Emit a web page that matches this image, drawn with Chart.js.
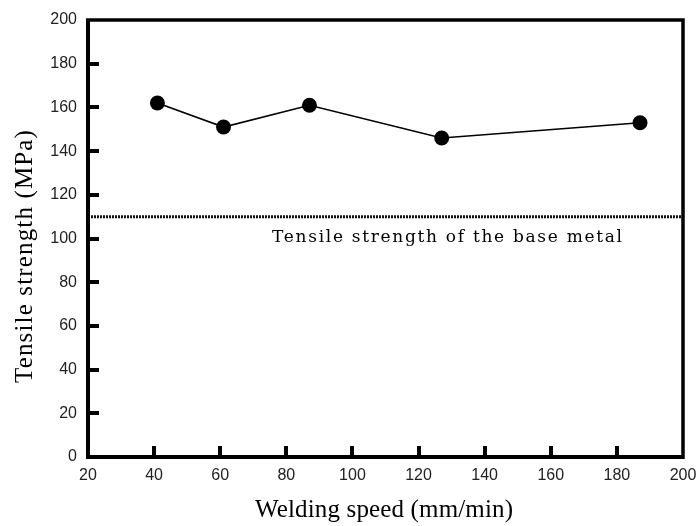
<!DOCTYPE html>
<html><head><meta charset="utf-8">
<script src="https://cdn.jsdelivr.net/npm/chart.js@4"></script>
<style>html,body{margin:0;padding:0;background:#fff;}#w{width:698px;height:526px;}</style>
</head><body><div id="w"><canvas id="c" width="698" height="526"></canvas></div>
<script>
const weldingSpeed = [41, 61, 87, 127, 187];
const tensileStrength = [162, 151, 161, 146, 153];
const baseMetalX = [20, 200];
const baseMetalY = [110, 110];
const baseMetalLabel = "Tensile strength of the base metal";
const xTicks = [20, 40, 60, 80, 100, 120, 140, 160, 180, 200];
const yTicks = [0, 20, 40, 60, 80, 100, 120, 140, 160, 180, 200];
const xTitle = "Welding speed (mm/min)";
const yTitle = "Tensile strength (MPa)";

function spacedText(ctx, text, x, y, target) {
  ctx.letterSpacing = '0px';
  const w = ctx.measureText(text).width;
  ctx.letterSpacing = ((target - w) / (text.length - 1)).toFixed(2) + 'px';
  ctx.fillText(text, x, y);
  ctx.letterSpacing = '0px';
}

const framePlugin = {
  id: 'frame',
  afterDatasetsDraw(chart) {
    const ctx = chart.ctx, a = chart.chartArea;
    const xs = chart.scales.x, ys = chart.scales.y;
    ctx.save();
    ctx.strokeStyle = '#000';
    ctx.lineWidth = 4;
    yTicks.forEach(v => {
      if (v === 0 || v === 200) return;
      const p = Math.round(ys.getPixelForValue(v));
      ctx.beginPath(); ctx.moveTo(a.left, p); ctx.lineTo(a.left + 11, p); ctx.stroke();
    });
    xTicks.forEach(v => {
      if (v === 20 || v === 200) return;
      const p = Math.round(xs.getPixelForValue(v));
      ctx.beginPath(); ctx.moveTo(p, a.bottom); ctx.lineTo(p, a.bottom - 11); ctx.stroke();
    });
    ctx.lineWidth = 4;
    ctx.beginPath(); ctx.moveTo(a.left, a.top); ctx.lineTo(a.left, a.bottom); ctx.lineTo(a.right, a.bottom); ctx.stroke();
    ctx.lineWidth = 3.5;
    ctx.beginPath(); ctx.moveTo(a.left - 2, a.top); ctx.lineTo(a.right, a.top); ctx.lineTo(a.right, a.bottom + 2); ctx.stroke();
    ctx.fillStyle = '#000';
    // base metal label
    ctx.font = '17px "DejaVu Serif"';
    ctx.textBaseline = 'middle';
    ctx.textAlign = 'left';
    spacedText(ctx, baseMetalLabel, xs.getPixelForValue(75.7), ys.getPixelForValue(100.5), 350);
    // x title
    ctx.font = '25px "Liberation Serif"';
    ctx.textAlign = 'left';
    ctx.textBaseline = 'alphabetic';
    spacedText(ctx, xTitle, 255, 517, 258);
    // y title
    ctx.translate(32, 383);
    ctx.rotate(-Math.PI / 2);
    spacedText(ctx, yTitle, 0, 0, 253);
    ctx.restore();
  }
};

new Chart(document.getElementById('c'), {
  type: 'scatter',
  data: {
    datasets: [
      {
        data: weldingSpeed.map((x, i) => ({x, y: tensileStrength[i]})),
        showLine: true, borderColor: '#000', borderWidth: 1.6,
        pointRadius: 7.5, pointBackgroundColor: '#000', pointBorderColor: '#000', pointBorderWidth: 0
      },
      {
        data: baseMetalX.map((x, i) => ({x, y: baseMetalY[i]})),
        showLine: true, borderColor: '#111', borderWidth: 3, borderDash: [2, 1],
        pointRadius: 0
      }
    ]
  },
  options: {
    responsive: false, animation: false,
    layout: { padding: { top: 20, right: 15, left: 0, bottom: 0 } },
    plugins: { legend: { display: false }, tooltip: { enabled: false } },
    scales: {
      x: {
        type: 'linear', min: 20, max: 200,
        afterBuildTicks: s => { s.ticks = xTicks.map(v => ({value: v})); },
        afterFit: s => { s.height = 69; s.paddingRight = 0; s.paddingLeft = 0; },
        grid: { display: false, drawTicks: false },
        border: { display: false },
        ticks: { padding: 9, color: '#222', font: { family: 'Liberation Sans', size: 16 } },
        title: { display: false }
      },
      y: {
        min: 0, max: 200,
        afterBuildTicks: s => { s.ticks = yTicks.map(v => ({value: v})); },
        afterFit: s => { s.width = 88; s.paddingTop = 0; s.paddingBottom = 0; },
        grid: { display: false, drawTicks: false },
        border: { display: false },
        ticks: { padding: 11, color: '#222', font: { family: 'Liberation Sans', size: 16 } },
        title: { display: false }
      }
    }
  },
  plugins: [framePlugin]
});
</script></body></html>
